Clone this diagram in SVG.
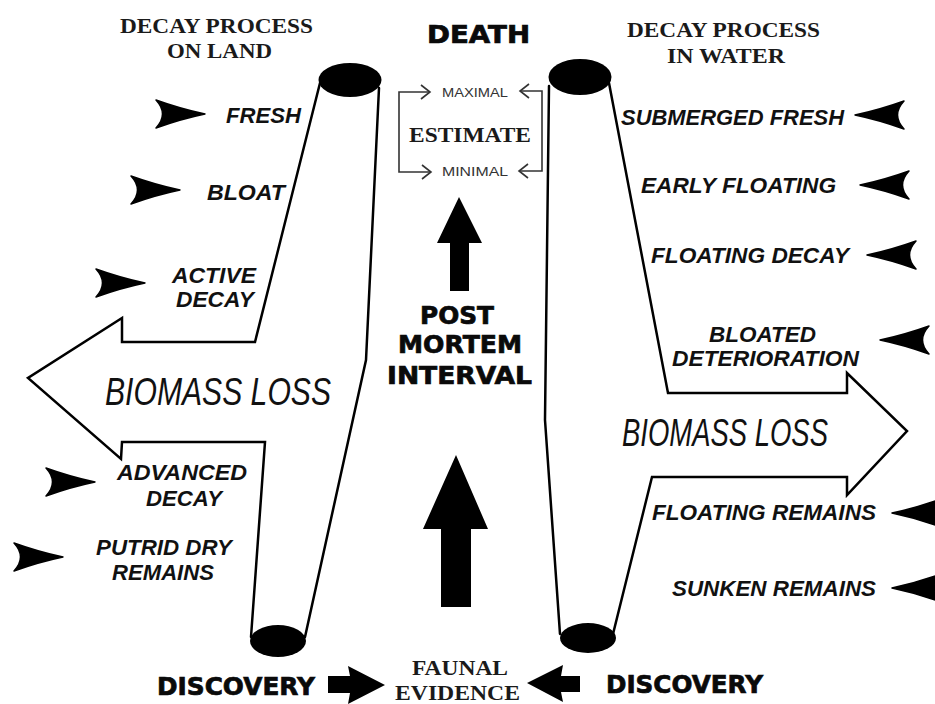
<svg xmlns="http://www.w3.org/2000/svg" xmlns:xlink="http://www.w3.org/1999/xlink" width="935" height="704" viewBox="0 0 935 704">
<style>
.hdr{font-family:"Liberation Serif",serif;font-weight:bold;font-size:22px;fill:#1a1a1a}
.big{font-family:"DejaVu Sans","Liberation Sans",sans-serif;font-weight:bold;font-size:24px;fill:#0a0a0a;stroke:#0a0a0a;stroke-width:0.7}
.stg{font-family:"Liberation Sans",Arial,sans-serif;font-weight:bold;font-style:italic;font-size:21.5px;fill:#111}
.bio{font-family:"Liberation Sans",Arial,sans-serif;font-style:italic;font-size:39px;fill:#111}
.sm{font-family:"Liberation Sans",Arial,sans-serif;font-size:13px;fill:#333}
.tube{fill:none;stroke:#000;stroke-width:2.5;stroke-linejoin:miter;stroke-linecap:round}
.brk{fill:none;stroke:#333;stroke-width:1.6}
.solid{fill:#000;stroke:none}
</style>
<defs>
<path id="dart" d="M0,0 Q-24,-5 -49,-14 Q-36,0 -49,14 Q-24,5 0,0 Z" fill="#000" stroke="#000" stroke-width="1.5" stroke-linejoin="round"/>
</defs>
<rect x="0" y="0" width="935" height="704" fill="#fff"/>

<g id="header-land">
<text class="hdr" x="120" y="33" textLength="193" lengthAdjust="spacingAndGlyphs">DECAY PROCESS</text>
<text class="hdr" x="167" y="58" textLength="105" lengthAdjust="spacingAndGlyphs">ON LAND</text>
</g>
<g id="header-water">
<text class="hdr" x="627" y="37" textLength="193" lengthAdjust="spacingAndGlyphs">DECAY PROCESS</text>
<text class="hdr" x="667" y="63" textLength="118" lengthAdjust="spacingAndGlyphs">IN WATER</text>
</g>
<g id="death">
<text class="big" x="427" y="43" font-size="25.5" textLength="103" lengthAdjust="spacingAndGlyphs">DEATH</text>
</g>

<g id="estimate">
<text class="sm" x="442" y="97" textLength="66" lengthAdjust="spacingAndGlyphs">MAXIMAL</text>
<text class="hdr" x="409" y="142" textLength="122" lengthAdjust="spacingAndGlyphs">ESTIMATE</text>
<text class="sm" x="442" y="176" textLength="66" lengthAdjust="spacingAndGlyphs">MINIMAL</text>
</g>

<g id="pmi">
<text class="big" x="420" y="324" textLength="74" lengthAdjust="spacingAndGlyphs">POST</text>
<text class="big" x="398" y="353" textLength="124" lengthAdjust="spacingAndGlyphs">MORTEM</text>
<text class="big" x="387" y="384" textLength="145" lengthAdjust="spacingAndGlyphs">INTERVAL</text>
</g>

<g id="land-tube">
<polyline class="tube" points="320,83 255,342 122,342 122,318 28,378 121,459 122,442 265,442 251,637"/>
<polyline class="tube" points="379,88 366,360 305,637"/>
<ellipse cx="350" cy="80" rx="31.5" ry="17" fill="#000"/>
<ellipse cx="278" cy="641" rx="28" ry="16" fill="#000"/>
<text class="bio" x="105" y="405" textLength="226" lengthAdjust="spacingAndGlyphs">BIOMASS LOSS</text>
</g>

<g id="water-tube">
<polyline class="tube" points="549,86 545,420 560,634"/>
<polyline class="tube" points="609,83 668,393 847,393 847,373 907,431 847,495 847,477 652,477 613,634"/>
<ellipse cx="580" cy="77" rx="31.5" ry="18" fill="#000"/>
<ellipse cx="588" cy="638" rx="28" ry="15" fill="#000"/>
<text class="bio" x="622" y="446" font-size="35" textLength="206" lengthAdjust="spacingAndGlyphs">BIOMASS LOSS</text>
</g>

<g id="land-stages">
<text class="stg" x="226" y="123" textLength="75" lengthAdjust="spacingAndGlyphs">FRESH</text>
<text class="stg" x="207" y="200" textLength="78" lengthAdjust="spacingAndGlyphs">BLOAT</text>
<text class="stg" x="172" y="283" textLength="84" lengthAdjust="spacingAndGlyphs">ACTIVE</text>
<text class="stg" x="176" y="307" textLength="78" lengthAdjust="spacingAndGlyphs">DECAY</text>
<text class="stg" x="117" y="480" textLength="130" lengthAdjust="spacingAndGlyphs">ADVANCED</text>
<text class="stg" x="146" y="506" textLength="76" lengthAdjust="spacingAndGlyphs">DECAY</text>
<text class="stg" x="96" y="555" textLength="136" lengthAdjust="spacingAndGlyphs">PUTRID DRY</text>
<text class="stg" x="112" y="580" textLength="102" lengthAdjust="spacingAndGlyphs">REMAINS</text>
</g>

<g id="water-stages">
<text class="stg" x="621" y="125" textLength="223" lengthAdjust="spacingAndGlyphs">SUBMERGED FRESH</text>
<text class="stg" x="641" y="193" textLength="195" lengthAdjust="spacingAndGlyphs">EARLY FLOATING</text>
<text class="stg" x="651" y="263" textLength="198" lengthAdjust="spacingAndGlyphs">FLOATING DECAY</text>
<text class="stg" x="709" y="342" textLength="107" lengthAdjust="spacingAndGlyphs">BLOATED</text>
<text class="stg" x="672" y="366" textLength="187" lengthAdjust="spacingAndGlyphs">DETERIORATION</text>
<text class="stg" x="652" y="520" textLength="224" lengthAdjust="spacingAndGlyphs">FLOATING REMAINS</text>
<text class="stg" x="672" y="596" textLength="204" lengthAdjust="spacingAndGlyphs">SUNKEN REMAINS</text>
</g>

<g id="discovery-land">
<text class="big" x="157" y="695" textLength="158" lengthAdjust="spacingAndGlyphs">DISCOVERY</text>
</g>
<g id="faunal-evidence">
<text class="hdr" x="412" y="675" font-size="21" textLength="96" lengthAdjust="spacingAndGlyphs">FAUNAL</text>
<text class="hdr" x="395" y="700" font-size="21" textLength="125" lengthAdjust="spacingAndGlyphs">EVIDENCE</text>
</g>
<g id="discovery-water">
<text class="big" x="606" y="693" textLength="157" lengthAdjust="spacingAndGlyphs">DISCOVERY</text>
</g>

<g id="connectors">
<polyline class="brk" points="430,92 399,92 399,172 431,172"/>
<polyline class="brk" points="421,85 430,92 421,99"/>
<polyline class="brk" points="422,165 431,172 422,179"/>
<polyline class="brk" points="520,91 542,91 542,171 519,171"/>
<polyline class="brk" points="529,84 520,91 529,98"/>
<polyline class="brk" points="528,164 519,171 528,178"/>
<polygon class="solid" points="459,197 482,243 469,243 469,291 450,291 450,243 437,243"/>
<polygon class="solid" points="456,455 488,529 471,529 471,607 441,607 441,529 423,529"/>
<polygon class="solid" points="328,676 350,676 348,666 385,685 348,704 350,693 328,693"/>
<polygon class="solid" points="580,676 561,676 563,665 527,683 563,702 561,692 580,692"/>
<use xlink:href="#dart" transform="translate(205,114)"/>
<use xlink:href="#dart" transform="translate(180,190)"/>
<use xlink:href="#dart" transform="translate(145,283)"/>
<use xlink:href="#dart" transform="translate(95,482)"/>
<use xlink:href="#dart" transform="translate(63,557)"/>
<use xlink:href="#dart" transform="translate(855,115) scale(-1,1)"/>
<use xlink:href="#dart" transform="translate(860,185) scale(-1,1)"/>
<use xlink:href="#dart" transform="translate(867,255) scale(-1,1)"/>
<use xlink:href="#dart" transform="translate(880,340) scale(-1,1)"/>
<use xlink:href="#dart" transform="translate(892,513) scale(-1,1)"/>
<use xlink:href="#dart" transform="translate(892,588) scale(-1,1)"/>
</g>
</svg>
